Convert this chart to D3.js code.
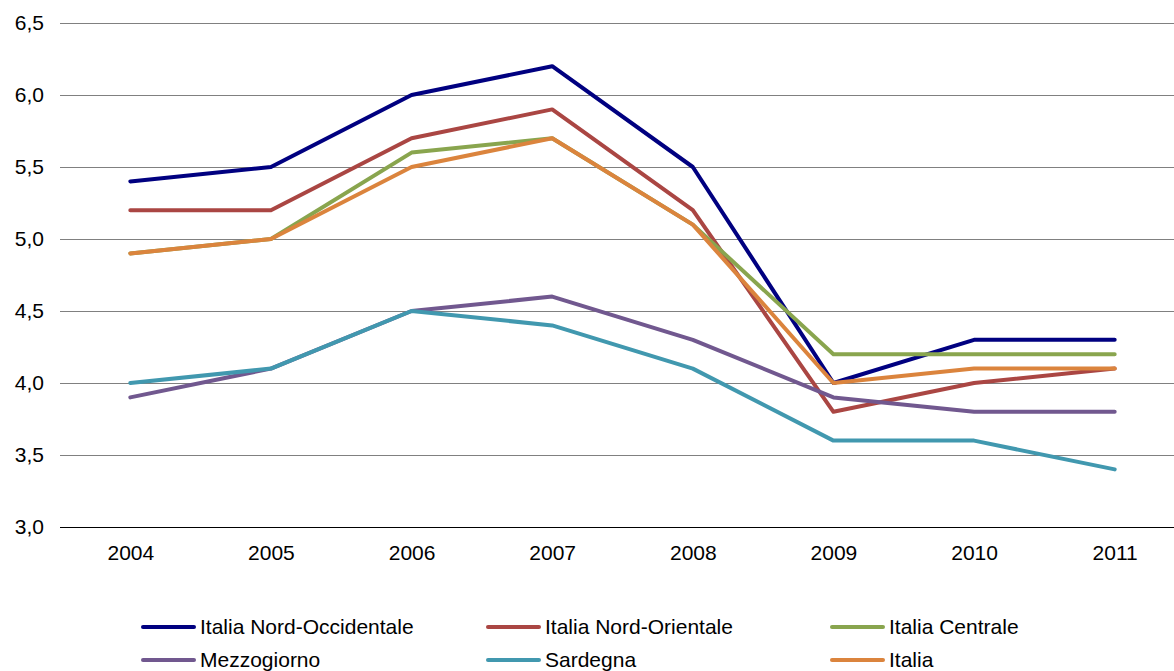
<!DOCTYPE html>
<html>
<head>
<meta charset="utf-8">
<script src="https://cdn.jsdelivr.net/npm/d3@7"></script>
<style>
  html, body { margin: 0; padding: 0; background: #fff; }
  svg { display: block; font-family: "Liberation Sans", Arial, sans-serif; }
</style>
</head>
<body>
<svg id="chart" width="1174" height="671"></svg>
<script>
// Years on the horizontal axis
const years = ["2004", "2005", "2006", "2007", "2008", "2009", "2010", "2011"];

// One series per area
const nordOccidentale = [5.4, 5.5, 6.0, 6.2, 5.5, 4.0, 4.3, 4.3];
const nordOrientale   = [5.2, 5.2, 5.7, 5.9, 5.2, 3.8, 4.0, 4.1];
const centrale        = [4.9, 5.0, 5.6, 5.7, 5.1, 4.2, 4.2, 4.2];
const mezzogiorno     = [3.9, 4.1, 4.5, 4.6, 4.3, 3.9, 3.8, 3.8];
const sardegna        = [4.0, 4.1, 4.5, 4.4, 4.1, 3.6, 3.6, 3.4];
const italia          = [4.9, 5.0, 5.5, 5.7, 5.1, 4.0, 4.1, 4.1];

const seriesNames = ["Italia Nord-Occidentale", "Italia Nord-Orientale", "Italia Centrale",
                     "Mezzogiorno", "Sardegna", "Italia"];
const seriesValues = [nordOccidentale, nordOrientale, centrale, mezzogiorno, sardegna, italia];
const seriesColors = ["#000080", "#AA4643", "#89A54E", "#71588F", "#4198AF", "#DB843D"];

// Y tick values
const yTicks = [3.0, 3.5, 4.0, 4.5, 5.0, 5.5, 6.0, 6.5];

const svg = d3.select("#chart");
const plotLeft = 60, plotRight = 1185, plotTop = 23, plotBottom = 527;
const fontSize = 21;

const x = d3.scalePoint().domain(years).range([plotLeft, plotRight]).padding(0.5);
const y = d3.scaleLinear().domain([3.0, 6.5]).range([plotBottom, plotTop]);

const fmt = v => d3.format(".1f")(v).replace(".", ",");

// Horizontal gridlines
svg.append("g")
  .selectAll("line")
  .data(yTicks)
  .join("line")
  .attr("x1", plotLeft).attr("x2", 1174)
  .attr("y1", d => y(d)).attr("y2", d => y(d))
  .attr("stroke", d => d === 3.0 ? "#000" : "#808080")
  .attr("stroke-width", 1)
  .attr("shape-rendering", "crispEdges");

// Y axis labels
const yAxis = d3.axisLeft(y).tickValues(yTicks).tickFormat(fmt).tickSize(0).tickPadding(16);
const gy = svg.append("g").attr("transform", `translate(${plotLeft},0)`).call(yAxis);
gy.select(".domain").remove();
gy.selectAll("text").attr("font-size", fontSize).attr("fill", "#000")
  .attr("font-family", "Liberation Sans, Arial, sans-serif");

// X axis labels
const xAxis = d3.axisBottom(x).tickSize(0).tickPadding(18);
const gx = svg.append("g").attr("transform", `translate(0,${plotBottom})`).call(xAxis);
gx.select(".domain").remove();
gx.selectAll("text").attr("font-size", fontSize).attr("fill", "#000")
  .attr("font-family", "Liberation Sans, Arial, sans-serif");

// Series lines
const line = d3.line().x((d, i) => x(years[i])).y(d => y(d));
svg.append("g")
  .selectAll("path")
  .data(seriesValues)
  .join("path")
  .attr("d", d => line(d))
  .attr("fill", "none")
  .attr("stroke", (d, i) => seriesColors[i])
  .attr("stroke-width", 4)
  .attr("stroke-linejoin", "round")
  .attr("stroke-linecap", "round");

// Legend: three columns, two rows
const legendCols = [143, 488, 832];
const legendRows = [627, 660];
const legend = svg.append("g")
  .selectAll("g")
  .data(seriesNames)
  .join("g")
  .attr("transform", (d, i) => `translate(${legendCols[i % 3]},${legendRows[Math.floor(i / 3)]})`);
legend.append("line")
  .attr("x1", 0).attr("x2", 51)
  .attr("stroke", (d, i) => seriesColors[i])
  .attr("stroke-width", 4)
  .attr("stroke-linecap", "round");
legend.append("text")
  .attr("x", 57).attr("dy", "0.35em")
  .attr("font-size", fontSize)
  .attr("fill", "#000")
  .text(d => d);
</script>
</body>
</html>
